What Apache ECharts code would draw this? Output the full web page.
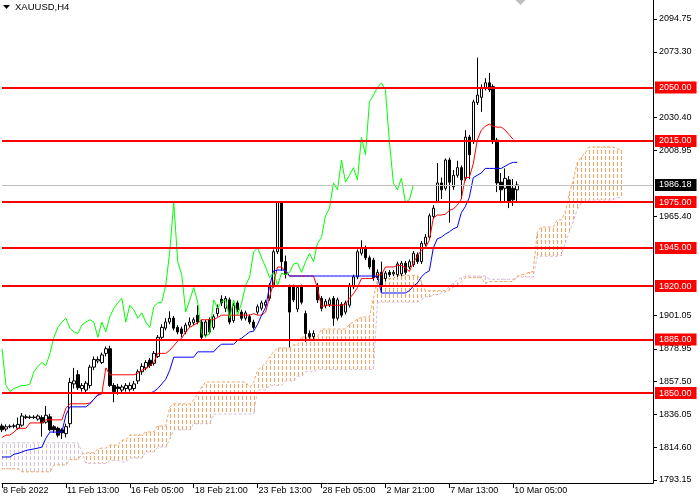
<!DOCTYPE html>
<html>
<head>
<meta charset="utf-8">
<script src="https://cdn.jsdelivr.net/npm/echarts@6/dist/echarts.min.js"></script>
<style>
html,body{margin:0;padding:0;background:#fff;}
#chart{width:700px;height:500px;}
</style>
</head>
<body>
<div id="chart"></div>
<script>
// ---- data (XAUUSD H4) ----
const slotCount = 164;
const tickIndex = [0, 16, 32, 48, 64, 80, 96, 112, 128];
const tickLabels = ['8 Feb 2022', '11 Feb 13:00', '16 Feb 05:00', '18 Feb 21:00', '23 Feb 13:00', '28 Feb 05:00', '2 Mar 21:00', '7 Mar 13:00', '10 Mar 05:00'];
const yTickValues = [2094.75, 2073.30, 2030.40, 2008.95, 1965.40, 1901.05, 1878.95, 1857.50, 1836.05, 1814.60, 1793.15];
const levelValues = [2050, 2015, 1975, 1945, 1920, 1885, 1850];
const currentPrice = 1986.18;

const openVals = [1828.5,1826.5,1828.0,1828.3,1827.0,1829.0,1834.5,1834.0,1834.3,1833.0,
 1834.0,1831.0,1834.5,1828.0,1827.0,1826.0,1823.5,1830.0,1856.0,1862.0,
 1853.0,1852.0,1855.0,1867.0,1871.0,1870.0,1876.0,1879.0,1855.0,1854.0,
 1852.0,1853.0,1852.5,1853.0,1858.0,1864.0,1866.5,1871.5,1869.5,1874.0,
 1886.5,1892.5,1896.5,1899.0,1893.0,1892.0,1890.0,1894.5,1896.0,1901.0,
 1896.5,1888.0,1898.0,1893.0,1902.0,1911.5,1905.5,1911.0,1897.5,1909.0,
 1903.0,1899.0,1900.0,1896.5,1903.0,1905.5,1907.5,1912.0,1920.5,1942.5,
 1975.0,1936.0,1919.5,1919.5,1905.0,1919.5,1902.0,1889.0,1887.0,1919.5,
 1912.0,1907.0,1908.0,1912.0,1899.0,1908.0,1903.0,1907.5,1919.5,1926.0,
 1941.5,1945.0,1938.5,1937.0,1925.5,1929.0,1925.0,1929.0,1928.0,1927.5,
 1928.0,1935.0,1932.5,1934.0,1940.5,1936.0,1947.5,1952.0,1965.5,1975.5,
 1987.5,1984.0,2002.5,1985.0,1992.5,1997.5,1990.5,2017.5,2014.5,2040.0,
 2043.5,2049.5,2053.0,2050.5,2015.5,1988.0,1984.0,1989.5,1984.0,1983.0];
const closeVals = [1826.0,1828.0,1828.3,1828.6,1829.5,1835.0,1834.0,1834.3,1834.0,1835.0,
 1830.5,1835.5,1826.0,1826.0,1822.5,1824.0,1828.0,1857.0,1858.0,1853.5,
 1855.0,1856.5,1867.0,1872.0,1872.0,1875.0,1879.0,1855.0,1851.0,1853.0,
 1854.0,1855.0,1855.0,1856.0,1864.0,1867.5,1870.0,1868.0,1876.0,1886.5,
 1893.0,1896.5,1899.0,1892.5,1890.0,1889.0,1894.5,1896.5,1898.0,1896.5,
 1886.5,1896.5,1890.0,1900.0,1905.5,1909.0,1912.0,1896.5,1907.5,1904.5,
 1899.0,1902.5,1896.5,1893.0,1906.5,1909.0,1909.5,1920.5,1942.5,1975.0,
 1936.0,1927.5,1903.0,1911.0,1919.0,1909.5,1889.0,1887.0,1889.0,1911.0,
 1905.5,1910.0,1911.0,1899.0,1911.0,1901.0,1909.0,1920.5,1926.0,1942.5,
 1945.0,1938.5,1932.5,1925.5,1929.0,1920.5,1928.5,1927.5,1929.0,1934.5,
 1935.0,1929.0,1936.0,1941.5,1936.0,1948.0,1952.0,1966.0,1971.0,1987.5,
 1983.0,2002.5,1988.0,1992.5,1997.5,1989.5,2017.5,2006.0,2040.5,2045.0,
 2050.0,2053.0,2048.5,2014.5,1987.5,1983.0,1990.5,1975.0,1976.5,1986.18];
const lowVals = [1824.5,1825.0,1827.0,1827.0,1826.0,1828.0,1833.0,1833.0,1833.0,1832.0,
 1821.5,1830.0,1825.0,1824.0,1821.0,1820.0,1821.0,1827.5,1853.0,1852.0,
 1851.0,1850.0,1853.0,1865.0,1869.5,1869.0,1874.0,1854.0,1844.0,1849.0,
 1850.0,1851.0,1851.0,1851.5,1856.0,1862.0,1865.0,1866.5,1868.0,1873.0,
 1885.0,1891.0,1895.0,1891.0,1888.5,1886.5,1888.5,1893.0,1894.5,1895.0,
 1885.0,1886.5,1888.5,1891.5,1900.0,1907.0,1903.0,1895.0,1896.0,1903.0,
 1897.5,1897.5,1895.0,1891.5,1901.5,1904.0,1906.0,1910.5,1919.0,1941.0,
 1930.0,1925.0,1880.0,1909.5,1903.0,1908.0,1883.5,1885.5,1885.0,1909.0,
 1903.5,1905.5,1906.5,1894.0,1897.5,1899.5,1901.5,1906.0,1918.0,1924.5,
 1940.0,1937.0,1931.0,1923.5,1924.0,1916.0,1923.0,1926.0,1926.5,1926.0,
 1926.5,1927.5,1931.0,1932.5,1934.5,1934.5,1946.0,1950.5,1964.0,1975.0,
 1977.0,1982.5,1961.5,1983.0,1991.0,1977.0,1989.0,1990.0,2013.0,2038.5,
 2034.0,2048.0,2047.0,2013.0,1981.5,1975.5,1975.0,1971.0,1972.5,1975.0];
const highVals = [1830.0,1829.5,1829.5,1830.0,1834.0,1837.0,1836.0,1835.5,1835.5,1836.0,
 1835.5,1841.5,1836.5,1829.0,1828.0,1827.0,1830.0,1860.0,1866.5,1865.0,
 1856.5,1858.0,1868.5,1874.0,1874.0,1876.5,1880.5,1881.0,1856.5,1856.0,
 1855.5,1856.5,1857.0,1858.0,1865.5,1869.5,1871.5,1873.0,1877.5,1888.0,
 1895.0,1899.0,1903.5,1900.5,1894.5,1893.5,1896.0,1899.5,1899.5,1907.5,
 1898.0,1898.0,1899.5,1901.5,1908.0,1914.0,1913.5,1912.5,1909.0,1910.5,
 1904.5,1904.0,1901.5,1898.0,1908.0,1910.5,1911.0,1922.0,1944.0,1975.5,
 1975.5,1940.0,1921.0,1921.0,1920.5,1921.0,1904.0,1891.0,1891.0,1922.0,
 1913.5,1911.5,1912.5,1913.5,1912.5,1909.5,1910.5,1922.0,1927.5,1944.0,
 1950.0,1946.5,1940.0,1938.5,1931.0,1936.0,1930.0,1930.5,1930.5,1936.0,
 1936.5,1936.5,1937.5,1943.0,1942.0,1949.5,1954.0,1967.5,1973.0,2000.5,
 1991.0,2003.5,2004.0,1996.0,2002.0,1999.0,2022.0,2019.0,2042.0,2069.5,
 2052.0,2056.0,2059.5,2052.0,2017.0,1994.0,1997.0,1992.0,1990.0,1988.5];

const tenkanVals = [1821,1822.5,1822.5,1824.5,1827,1827,1827,1830.5,1830.5,1830.5,
 1830.5,1832.5,1832.5,1832.5,1832.5,1832.5,1840,1843,1843,1843,
 1843,1843,1843.5,1846,1848.5,1849.5,1866.5,1862,1862,1862,
 1862,1862,1862,1862,1863,1865,1866,1868,1870,1876,
 1876,1876,1878,1881,1884,1886,1890,1893,1894.5,1896,
 1898,1898,1898,1898,1899.5,1901,1901,1901,1901,1901,
 1901,1901,1901,1902,1901,1901,1903,1913,1922,1932.5,
 1932.5,1929.5,1926.6,1926.6,1926.6,1926.6,1926.6,1926.6,1926.6,1919,
 1906.3,1907.5,1907.5,1907.5,1907.5,1907.5,1908,1912,1915,1919,
 1925,1925,1925,1925,1927.3,1927.3,1932.5,1932.5,1932.5,1933.5,
 1933.5,1932,1929.5,1935.5,1939.5,1943.5,1945,1950,1964.5,1966.5,
 1966.5,1967,1969.5,1970.5,1973,1977,1991,1991,2000,2015.5,
 2022,2024.5,2026,2024.5,2024,2024,2022,2019,2016,null];
const kijunVals = [1808.2,1808.2,1808.2,1810,1810.5,1811.5,1812.5,1813,1813.5,1814,
 1814.7,1820.5,1824.5,1824.5,1824.5,1824.5,1835.7,1841,1841,1841,
 1841,1841,1843,1846,1849,1850,1850,1850,1850,1850,
 1850,1850,1850,1850,1850,1850,1850,1850,1851,1853,
 1856,1859,1865,1873.5,1873.5,1873.5,1873.5,1873.5,1873.5,1877,
 1877,1877,1877,1877,1880,1882,1882,1882,1882,1884.5,
 1886,1888,1890,1890.5,1895,1901,1906,1920,1930,1930.5,
 1930.5,1930.5,1926.6,1926.6,1926.6,1926.6,1926.6,1926.6,1926.6,1926.6,
 1926.6,1926.6,1926.6,1926.6,1926.6,1926.6,1926.6,1926.6,1926.6,1926.6,
 1926.6,1926.6,1926.6,1926.6,1926.6,1915.5,1915.5,1915.5,1915.5,1915.5,
 1915.5,1915.5,1917,1920,1922,1926,1928.5,1930,1945,1951,
 1952,1954,1955.5,1957.5,1958.5,1968,1972,1978,1991,1992.5,
 1994,1997,1997,1997,1997,1997,1998.5,2000,2001,2001];

const spanAVals = [1800.5,1800.5,1800.5,1800.5,1800.5,1798.5,1798.5,1798.5,1798.5,1798.5,
 1798.5,1798.5,1798.5,1803,1803,1803,1803,1806.5,1806.5,1806.5,
 1810,1811,1811,1811,1813.5,1814,1814,1816,1816,1816,
 1819.3,1819.3,1822.6,1822.6,1822.6,1822.6,1824.6,1824.6,1824.6,1828.5,
 1828.5,1828.5,1840.9,1843,1843,1843,1843,1843,1845.5,1850,
 1854,1857.3,1857.3,1857.3,1857.3,1857.3,1857.3,1857.3,1857.3,1857.3,
 1857.3,1857.3,1854,1857,1865,1867,1870,1873.6,1877,1879.5,
 1879.5,1879.5,1879.5,1881.5,1881.5,1886.7,1886.7,1886.7,1886.7,1886.7,
 1891.9,1891.9,1891.9,1891.9,1891.9,1891.9,1891.9,1895,1896.5,1898.5,
 1899.8,1899.8,1899.8,1912,1924,1925,1925,1925,1925,1927,
 1927,1927,1927,1927,1927,1923,1917,1917,1917,1917,
 1917,1917,1917.3,1919.3,1920.8,1922.8,1925.5,1925.5,1925.5,1925.5,
 1925.5,1921.5,1923,1923,1923,1923,1923,1923,1923,1926.6,
 1927.3,1928,1929,1929.5,1955,1958.7,1958.7,1958.7,1958.7,1963.3,
 1963.3,1968,1980,1989,2000.5,2004.5,2007,2011,2011,2011,
 2011,2011,2011,2011,2010,2009];
const spanBVals = [1817.5,1817.5,1817.5,1817.5,1817.5,1817.5,1817.5,1817.5,1817.5,1817.5,
 1817.5,1817.5,1817.5,1817.5,1817.5,1817.5,1817.5,1817.5,1817.5,1817.5,
 1811.5,1804,1804,1804,1804,1804,1804,1806,1806,1806,
 1805,1805,1807.5,1807.5,1807.5,1807.5,1811.5,1811.5,1811.5,1814.7,
 1814.7,1814.7,1820,1826,1826,1826,1826,1826,1830,1830,
 1830,1830,1830,1836.3,1836.3,1836.3,1836.3,1836.3,1836.3,1836.3,
 1836.3,1836.3,1836.3,1836.3,1852,1852,1852,1855,1855,1855,
 1855,1858,1858,1858,1861,1861,1864,1864,1864,1865.5,
 1865.5,1865.5,1865.5,1865.5,1865.5,1865.5,1865.5,1865.5,1865.5,1865.5,
 1865.5,1865.5,1865.5,1865.5,1909,1909.5,1909.5,1909.5,1909.5,1909.5,
 1909.5,1909.5,1909.5,1909.5,1909.5,1911,1913,1913,1914,1914.5,
 1915.5,1916,1920,1922,1924,1925.5,1926.6,1926.6,1926.6,1926.6,
 1926.6,1926.6,1924.5,1924.5,1924.5,1924.5,1924.5,1924.5,1924.5,1926,
 1926,1926,1926,1926,1939,1939.5,1939.5,1939.5,1939.5,1939.5,
 1940,1948,1955,1962,1970,1974.4,1975,1976.3,1976.3,1976.3,
 1976.3,1976.3,1976.3,1976.3,1978,1978];
const chikouShift = 26;

// ---- build options ----
const FONT = '"Liberation Sans", Arial, sans-serif';
// unique category ids per bar slot (duplicate names confuse per-item rendering)
const slotIds = [];
for (let i = 0; i < slotCount; i++) slotIds.push('bar' + i);
const labelByIndex = {};
tickIndex.forEach((idx, k) => { labelByIndex[idx] = tickLabels[k]; });
const tickSet = new Set(tickIndex);
const candleData = openVals.map((o, i) => [o, closeVals[i], lowVals[i], highVals[i]]);
const chikouVals = closeVals.slice(chikouShift);
const cloudData = spanAVals.map((a, i) => [i, a, spanBVals[i]]);

const levelLabel = (bg) => ({
  show: true, position: 'end', distance: 2,
  formatter: (p) => Number(p.value).toFixed(2),
  backgroundColor: bg, color: '#FFFFFF', fontFamily: FONT, fontSize: 9,
  padding: [1, 5, 0, 4], lineHeight: 11
});
const markData = levelValues.map(v => ({
  yAxis: v, lineStyle: { color: '#FF0000', width: 2, type: 'solid' }, label: levelLabel('#FF0000')
}));
markData.unshift({
  yAxis: currentPrice, lineStyle: { color: '#C0C0C0', width: 1, type: 'solid' }, label: levelLabel('#000000')
});

const DASH_ON = 4, DASH_PERIOD = 6;
const BULL_CLOUD = '#F4A460', BEAR_CLOUD = '#D8BFD8';
const chart = echarts.init(document.getElementById('chart'), null, { renderer: 'canvas' });
chart.setOption({
  animation: false,
  backgroundColor: '#FFFFFF',
  grid: { left: 1, right: 47, top: 0, bottom: 17, containLabel: false },
  xAxis: {
    type: 'category', data: slotIds, boundaryGap: false,
    axisLine: { show: true, lineStyle: { color: '#000000', width: 1 } },
    axisTick: { show: true, interval: (idx) => tickSet.has(idx), length: 5, lineStyle: { color: '#000000' } },
    axisLabel: { show: true, interval: (idx) => tickSet.has(idx), align: 'left', margin: 3,
      formatter: (value, idx) => labelByIndex[idx] || '',
      fontSize: 9, fontFamily: FONT, color: '#000000', padding: [0, 0, 0, 1] },
    splitLine: { show: false }
  },
  yAxis: {
    type: 'value', position: 'right', min: 1791.19, max: 2107.18, scale: true,
    axisLine: { show: true, lineStyle: { color: '#000000', width: 1 } },
    axisTick: { show: true, customValues: yTickValues, length: 4, lineStyle: { color: '#000000' } },
    axisLabel: { show: true, customValues: yTickValues, formatter: (v) => Number(v).toFixed(2),
      margin: 6, fontSize: 9, fontFamily: FONT, color: '#000000' },
    splitLine: { show: false }
  },
  graphic: [
    { type: 'polygon', shape: { points: [[3, 5], [10, 5], [6.5, 9]] }, style: { fill: '#000000' } },
    { type: 'text', x: 15, y: 2, style: { text: 'XAUUSD,H4', fill: '#000000', font: '9.5px ' + FONT } },
    { type: 'polygon', shape: { points: [[515.5, 0], [525.5, 0], [520.5, 5]] }, style: { fill: '#BEBEBE' } }
  ],
  series: [
    {
      type: 'custom', name: 'cloud', z: 1, silent: true,
      encode: { x: 0, y: [1, 2] },
      data: cloudData,
      renderItem: (params, api) => {
        const i = api.value(0), a = api.value(1), b = api.value(2);
        const pa = api.coord([i, a]);
        const pb = api.coord([i, b]);
        const x = Math.round(pa[0]);
        const yTop = Math.round(Math.min(pa[1], pb[1]));
        const yBot = Math.round(Math.max(pa[1], pb[1]));
        const color = a >= b ? BULL_CLOUD : BEAR_CLOUD;
        const children = [];
        for (let y = Math.floor(yTop / DASH_PERIOD) * DASH_PERIOD; y < yBot; y += DASH_PERIOD) {
          const y0 = Math.max(y, yTop), y1 = Math.min(y + DASH_ON, yBot);
          if (y1 > y0) {
            children.push({ type: 'rect', shape: { x: x, y: y0, width: 1, height: y1 - y0 },
              style: { fill: color } });
          }
        }
        return { type: 'group', children: children };
      }
    },
    { type: 'line', name: 'Senkou A', data: spanAVals, z: 2, silent: true, symbol: 'none',
      lineStyle: { color: BULL_CLOUD, width: 1, type: [3, 2] } },
    { type: 'line', name: 'Senkou B', data: spanBVals, z: 2, silent: true, symbol: 'none',
      lineStyle: { color: BEAR_CLOUD, width: 1, type: [3, 2] } },
    {
      type: 'candlestick', name: 'XAUUSD', data: candleData, z: 3, silent: true, barWidth: 3,
      itemStyle: { color: '#FFFFFF', color0: '#000000', borderColor: '#000000', borderColor0: '#000000', borderWidth: 1 },
      markLine: { silent: true, symbol: ['none', 'none'], animation: false, z: 6, data: markData }
    },
    { type: 'line', name: 'Tenkan', data: tenkanVals, z: 4, silent: true, symbol: 'none',
      lineStyle: { color: '#FF0000', width: 1 } },
    { type: 'line', name: 'Kijun', data: kijunVals, z: 4, silent: true, symbol: 'none',
      lineStyle: { color: '#0000FF', width: 1 } },
    { type: 'line', name: 'Chikou', data: chikouVals, z: 4, silent: true, symbol: 'none',
      lineStyle: { color: '#00FF00', width: 1 } }
  ]
});
</script>
</body>
</html>
